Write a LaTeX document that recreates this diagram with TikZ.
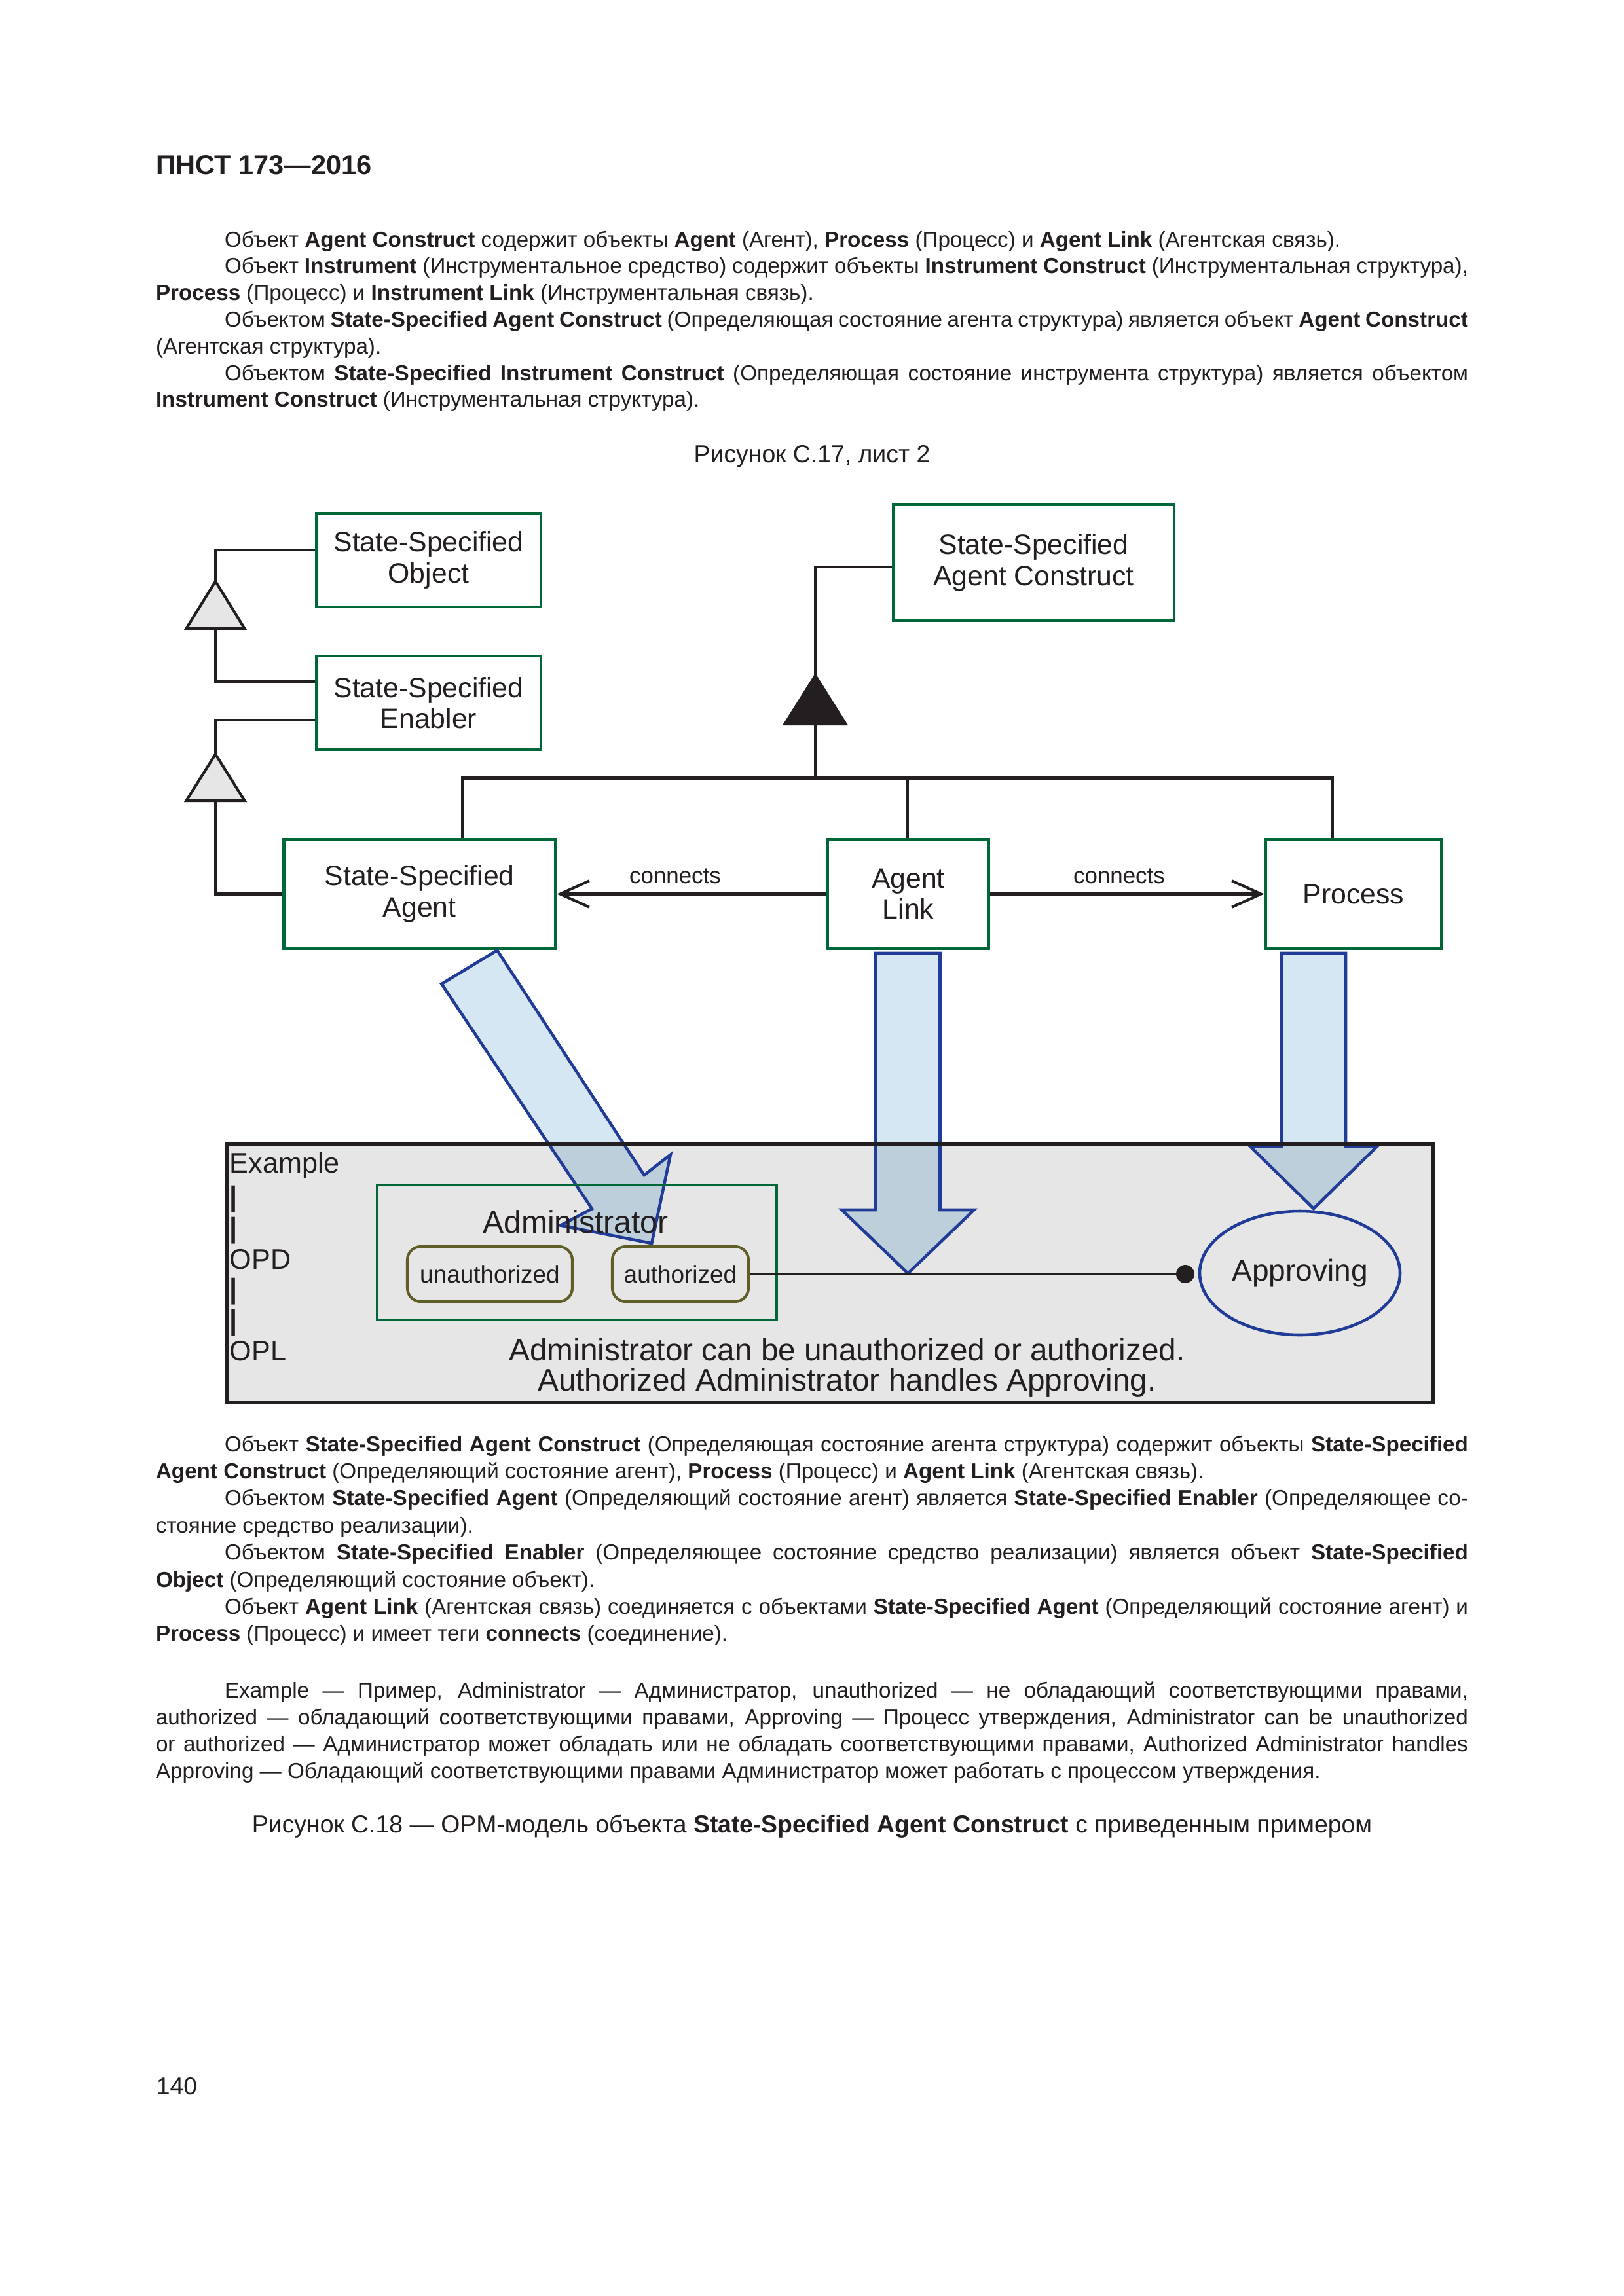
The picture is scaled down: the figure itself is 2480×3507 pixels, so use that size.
\documentclass[tikz,border=0pt]{standalone}
\usepackage{fontspec}
\setmainfont{Liberation Sans}
\usetikzlibrary{arrows.meta,shapes.geometric}
\newlength\pxu
\setlength\pxu{0.2409pt}
\newcommand\myfs[2]{\fontsize{#1}{#2}\selectfont}
\definecolor{ink}{RGB}{35,31,32}
\definecolor{ssgreen}{RGB}{0,104,56}
\definecolor{stolive}{RGB}{94,94,38}
\definecolor{opmblue}{RGB}{33,60,150}
\definecolor{lblue}{RGB}{214,231,244}
\definecolor{dblue}{RGB}{190,207,220}
\definecolor{exbg}{RGB}{230,230,230}
\definecolor{genfill}{RGB}{230,230,230}
\begin{document}
\begin{tikzpicture}[x=0.0846774mm,y=-0.0846774mm,
  bodyline/.style={anchor=base west,inner sep=0,outer sep=0,font=\myfs{8pt}{10pt},text=ink},
  centerline/.style={anchor=base,inner sep=0,outer sep=0,font=\myfs{9pt}{10pt},text=ink},
  objbox/.style={draw=ssgreen,line width=1.15pt,inner sep=0,align=center,font=\myfs{10.3pt}{11.4pt},text=ink},
  link/.style={draw=ink,line width=1pt},
  gentri/.style={draw=ink,line width=1pt,fill=genfill,line join=miter},
  aggtri/.style={draw=ink,line width=1pt,fill=ink,line join=miter},
  lbl/.style={anchor=base,inner sep=0,font=\myfs{8.4pt}{10pt},text=ink},
  fatarrow/.style={draw=opmblue,line width=1.1pt,line join=miter},
  exlbl/.style={anchor=base west,inner sep=0,font=\myfs{10.4pt}{12pt},text=ink},
  opltext/.style={anchor=base,inner sep=0,font=\myfs{11.5pt}{13pt},text=ink},
  statebox/.style={draw=stolive,line width=1pt,rounded corners=5pt,inner sep=0,font=\myfs{8.9pt}{10pt},text=ink,minimum height={84*\pxu}},
  barb/.style={-{Straight Barb[length=10.7pt,width=9.7pt]}},
]
\useasboundingbox (0,0) rectangle (2480,3507);
\fill[white] (0,0) rectangle (2480,3507);

% ---------- header and top text ----------
\node[anchor=base west,inner sep=0,font=\myfs{10pt}{12pt}\bfseries,text=ink] (hdr) at (238,266) {ПНСТ 173—2016};

\node[bodyline] (t1) at (343,377) {Объект \textbf{Agent Construct} содержит объекты \textbf{Agent} (Агент), \textbf{Process} (Процесс) и \textbf{Agent Link} (Агентская связь).};
\node[bodyline] (t2) at (343,417.8) {\makebox[1899\pxu][s]{Объект \textbf{Instrument} (Инструментальное средство) содержит объекты \textbf{Instrument Construct} (Инструментальная структура),}};
\node[bodyline] (t3) at (238,458.6) {\textbf{Process} (Процесс) и \textbf{Instrument Link} (Инструментальная связь).};
\node[bodyline] (t4) at (343,499.4) {\makebox[1899\pxu][s]{Объектом \textbf{State-Specified Agent Construct} (Определяющая состояние агента структура) является объект \textbf{Agent Construct}}};
\node[bodyline] (t5) at (238,540.2) {(Агентская структура).};
\node[bodyline] (t6) at (343,581) {\makebox[1899\pxu][s]{Объектом \textbf{State-Specified Instrument Construct} (Определяющая состояние инструмента структура) является объектом}};
\node[bodyline] (t7) at (238,621.8) {\textbf{Instrument Construct} (Инструментальная структура).};

\node[centerline] (cap1) at (1240,706) {Рисунок С.17, лист 2};

% ---------- upper diagram ----------
\node[objbox,minimum width={343*\pxu},minimum height={143*\pxu}] (sso) at (654.5,855.5) {State-Specified\\Object};
\node[objbox,minimum width={343*\pxu},minimum height={143*\pxu}] (sse) at (654.5,1073.5) {State-Specified\\Enabler};
\node[objbox,minimum width={429*\pxu},minimum height={177*\pxu}] (ssac) at (1578.5,859.5) {State-Specified\\Agent Construct};
\node[objbox,minimum width={414.5*\pxu},minimum height={167*\pxu}] (ssa) at (640.75,1365.5) {State-Specified\\Agent};
\node[objbox,minimum width={246*\pxu},minimum height={167*\pxu}] (al) at (1387,1365.5) {Agent\\Link};
\node[objbox,minimum width={268*\pxu},minimum height={167*\pxu}] (proc) at (2067,1365.5) {Process};

% generalization triangles
\coordinate (g1a) at (329,888);  \coordinate (g1b) at (329,960);
\coordinate (g2a) at (329,1152); \coordinate (g2b) at (329,1223);
\coordinate (g3a) at (1245,1032); \coordinate (g3b) at (1245,1106);
\draw[gentri] (g1a) -- (284.5,960) -- (373.5,960) -- cycle;
\draw[gentri] (g2a) -- (284.5,1223) -- (373.5,1223) -- cycle;
\draw[aggtri] (g3a) -- (1198.5,1106) -- (1291.5,1106) -- cycle;

\draw[link] (sso.west |- 0,840) -| (g1a);
\draw[link] (g1b) |- (sse.west |- 0,1041);
\draw[link] (sse.west |- 0,1100) -| (g2a);
\draw[link] (g2b) |- (ssa.west);
\draw[link] (ssac.west |- 0,866) -| (g3a);

\coordinate (busL) at (706,1188.5);
\coordinate (busM) at (1245,1188.5);
\coordinate (busA) at (1386,1188.5);
\coordinate (busR) at (2035,1188.5);
\draw[link] (g3b) -- (busM);
\draw[link] (ssa.north -| busL) -- (busL) -- (busR) -- (proc.north -| busR);
\draw[link] (busA) -- (al.north -| busA);

\draw[link,barb] (al.west) -- (ssa.east);
\draw[link,barb] (al.east) -- (proc.west);
\node[lbl] (c1) at (1031,1349) {connects};
\node[lbl] (c2) at (1709,1349) {connects};

% ---------- example box ----------
\fill[exbg] (347,1748) rectangle (2189,2142.5);

% fat arrows
\fill[lblue] (674.4,1502.9) -- (759.2,1451.5) -- (983.7,1794.9) -- (1023.9,1763.7) -- (995.2,1899.1) -- (856.1,1871.6) -- (904,1846.3) -- cycle;
\fill[lblue] (1337.5,1456) -- (1435.5,1456) -- (1435.5,1848) -- (1487.5,1848) -- (1386.5,1945) -- (1285.5,1848) -- (1337.5,1848) -- cycle;
\fill[lblue] (1957,1456) -- (2055,1456) -- (2055,1751) -- (2103,1751) -- (2006,1846) -- (1909,1751) -- (1957,1751) -- cycle;
\begin{scope}
\clip (347,1748) rectangle (2189,2142.5);
\fill[dblue] (674.4,1502.9) -- (759.2,1451.5) -- (983.7,1794.9) -- (1023.9,1763.7) -- (995.2,1899.1) -- (856.1,1871.6) -- (904,1846.3) -- cycle;
\fill[dblue] (1337.5,1456) -- (1435.5,1456) -- (1435.5,1848) -- (1487.5,1848) -- (1386.5,1945) -- (1285.5,1848) -- (1337.5,1848) -- cycle;
\fill[dblue] (1957,1456) -- (2055,1456) -- (2055,1751) -- (2103,1751) -- (2006,1846) -- (1909,1751) -- (1957,1751) -- cycle;
\end{scope}
\draw[fatarrow] (674.4,1502.9) -- (759.2,1451.5) -- (983.7,1794.9) -- (1023.9,1763.7) -- (995.2,1899.1) -- (856.1,1871.6) -- (904,1846.3) -- cycle;
\draw[fatarrow] (1337.5,1456) -- (1435.5,1456) -- (1435.5,1848) -- (1487.5,1848) -- (1386.5,1945) -- (1285.5,1848) -- (1337.5,1848) -- cycle;
\draw[fatarrow] (1957,1456) -- (2055,1456) -- (2055,1751) -- (2103,1751) -- (2006,1846) -- (1909,1751) -- (1957,1751) -- cycle;

\node[draw=ink,line width=1.3pt,inner sep=0,outer sep=0,minimum width={1842*\pxu},minimum height={394.5*\pxu}] (ex) at (1268,1945.25) {};

\node[exlbl] (exl) at (350,1791) {Example};
\node[exlbl] (bar1) at (350,1842) {\textbf{|}};
\node[exlbl] (bar2) at (350,1890) {\textbf{|}};
\node[exlbl] (opd) at (350,1938) {OPD};
\node[exlbl] (bar3) at (350,1983) {\textbf{|}};
\node[exlbl] (bar4) at (350,2031) {\textbf{|}};
\node[exlbl] (opl) at (350,2078) {OPL};

\node[draw=ssgreen,line width=1.1pt,inner sep=0,minimum width={610*\pxu},minimum height={206*\pxu}] (admin) at (881,1913) {};
\node[anchor=base,inner sep=0,font=\myfs{11.6pt}{13pt},text=ink] (adminlbl) at (879,1883) {Administrator};
\node[statebox,minimum width={252*\pxu}] (unauth) at (748,1946) {unauthorized};
\node[statebox,minimum width={208*\pxu}] (auth) at (1039,1946) {authorized};

\node[circle,fill=ink,inner sep=0,minimum size={28*\pxu}] (dot) at (1810,1946) {};
\draw[link] (auth.east) -- (dot.center);
\node[ellipse,draw=opmblue,line width=1.1pt,inner sep=0,minimum width={306*\pxu},minimum height={189*\pxu},font=\myfs{11.1pt}{13pt},text=ink] (appr) at (1985,1944.5) {Approving};

\node[opltext] (opl1) at (1293.5,2078) {Administrator can be unauthorized or authorized.};
\node[opltext] (opl2) at (1293.5,2124) {Authorized Administrator handles Approving.};

% ---------- bottom text ----------
\node[bodyline] (b1) at (343,2217) {\makebox[1899\pxu][s]{Объект \textbf{State-Specified Agent Construct} (Определяющая состояние агента структура) содержит объекты \textbf{State-Specified}}};
\node[bodyline] (b2) at (238,2258.4) {\textbf{Agent Construct} (Определяющий состояние агент), \textbf{Process} (Процесс) и \textbf{Agent Link} (Агентская связь).};
\node[bodyline] (b3) at (343,2299.8) {\makebox[1899\pxu][s]{Объектом \textbf{State-Specified Agent} (Определяющий состояние агент) является \textbf{State-Specified Enabler} (Определяющее со-}};
\node[bodyline] (b4) at (238,2341.2) {стояние средство реализации).};
\node[bodyline] (b5) at (343,2382.6) {\makebox[1899\pxu][s]{Объектом \textbf{State-Specified Enabler} (Определяющее состояние средство реализации) является объект \textbf{State-Specified}}};
\node[bodyline] (b6) at (238,2424) {\textbf{Object} (Определяющий состояние объект).};
\node[bodyline] (b7) at (343,2465.4) {\makebox[1899\pxu][s]{Объект \textbf{Agent Link} (Агентская связь) соединяется с объектами \textbf{State-Specified Agent} (Определяющий состояние агент) и}};
\node[bodyline] (b8) at (238,2506.8) {\textbf{Process} (Процесс) и имеет теги \textbf{connects} (соединение).};

\node[bodyline] (e1) at (343,2593) {\makebox[1899\pxu][s]{Example — Пример, Administrator — Администратор, unauthorized — не обладающий соответствующими правами,}};
\node[bodyline] (e2) at (238,2634) {\makebox[2004\pxu][s]{authorized — обладающий соответствующими правами, Approving — Процесс утверждения, Administrator can be unauthorized}};
\node[bodyline] (e3) at (238,2675) {\makebox[2004\pxu][s]{or authorized — Администратор может обладать или не обладать соответствующими правами, Authorized Administrator handles}};
\node[bodyline] (e4) at (238,2716) {Approving — Обладающий соответствующими правами Администратор может работать с процессом утверждения.};

\node[centerline] (cap2) at (1240,2799) {Рисунок С.18 — OPM-модель объекта \textbf{State-Specified Agent Construct} с приведенным примером};

\node[anchor=base west,inner sep=0,font=\myfs{9pt}{10pt},text=ink] (pg) at (238,3199) {140};
\end{tikzpicture}
\end{document}
